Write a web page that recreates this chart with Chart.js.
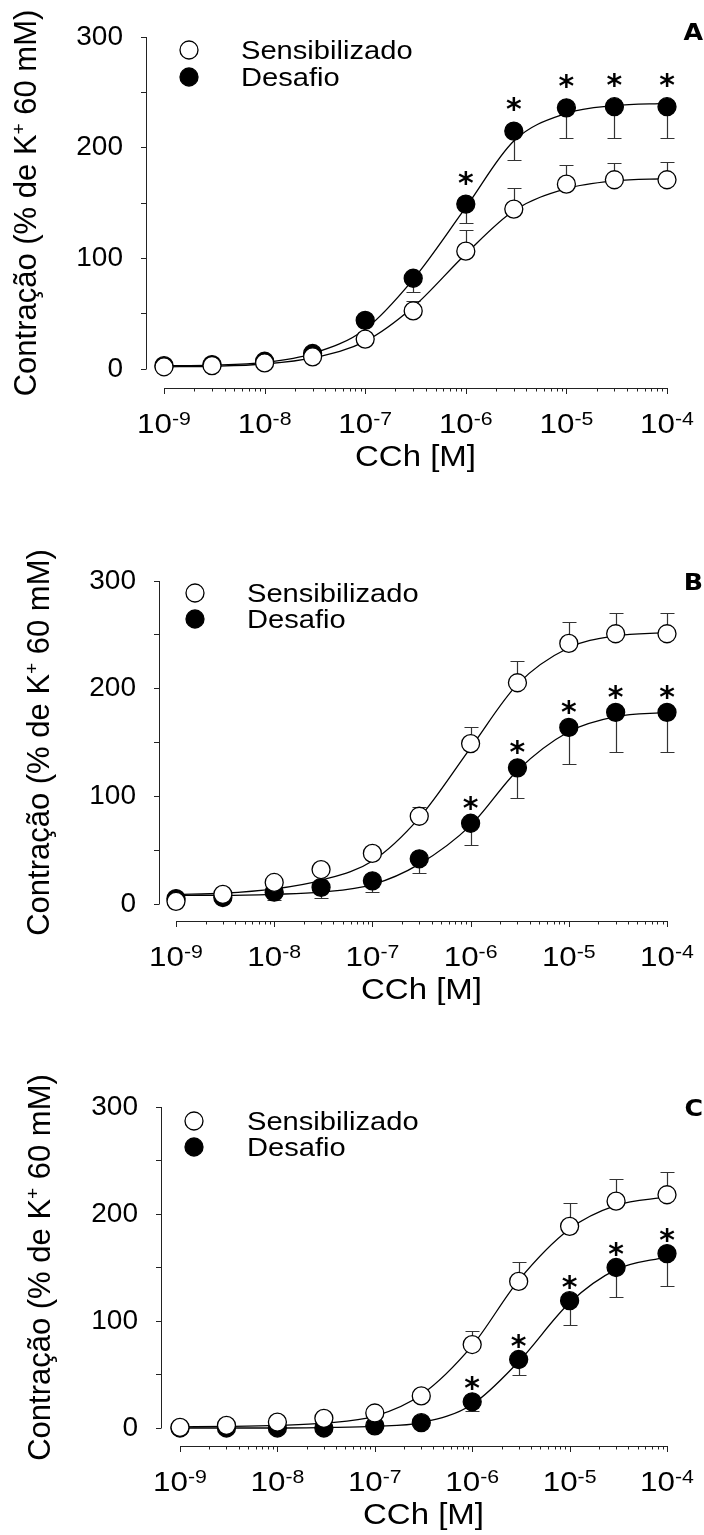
<!DOCTYPE html>
<html>
<head>
<meta charset="utf-8">
<script src="https://cdn.jsdelivr.net/npm/chart.js@4.4.1/dist/chart.umd.min.js"></script>
<style>
  html, body { margin: 0; padding: 0; background: #fff; }
  body { width: 704px; height: 1535px; position: relative; overflow: hidden; }
  canvas { position: absolute; left: 0; }
</style>
</head>
<body>
<canvas id="chartA" width="704" height="500" style="top:0px"></canvas>
<canvas id="chartB" width="704" height="510" style="top:500px"></canvas>
<canvas id="chartC" width="704" height="525" style="top:1010px"></canvas>
<script>
// CCh concentrations (M) and axis ticks
const doses = [1e-9, 3e-9, 1e-8, 3e-8, 1e-7, 3e-7, 1e-6, 3e-6, 1e-5, 3e-5, 1e-4];
const seriesNames = ['Sensibilizado', 'Desafio'];
const xTickExponents = [-9, -8, -7, -6, -5, -4];
const yTickValues = [0, 50, 100, 150, 200, 250, 300];
const yLabelStep = 100;
const starred = [false, false, false, false, false, false, true, true, true, true, true];

// Panel A
const sensA    = [2, 3, 5.5, 11, 27, 52.5, 106.5, 144.5, 167, 171, 171];
const sensSemA = [0, 0, 0, 0, 0, 9, 19, 19, 17, 15, 16];
const sensFitA = [2, 2.5, 4.5, 10, 25, 56, 104, 143, 163, 170, 172];
const desA     = [3, 4, 7, 14, 44, 82, 149, 215, 236, 237, 237];
const desSemA  = [0, 0, 0, 0, 2, 12, 17, 26, 27.5, 28.5, 28.5];
const desFitA  = [3, 3.5, 6, 14, 36, 81, 146, 206, 231, 238, 240];

// Panel B
const sensB    = [2.5, 9, 20, 32, 47, 81.5, 149, 205.5, 242, 251, 251];
const sensSemB = [0, 0, 0, 0, 0, 9, 15, 20, 20, 19, 19];
const sensFitB = [9, 10, 14, 22, 40, 80, 145, 204, 238, 249, 252];
const desB     = [5, 6, 11, 15.5, 21.5, 42, 75, 126.5, 164, 178, 178];
const desSemB  = [0, 3, 7, 10, 10, 13, 20, 28.5, 34, 37, 37];
const desFitB  = [8, 8, 9, 11, 18, 37, 73, 124, 160, 174, 178];

// Panel C
const sensC    = [0.6, 2.5, 5.5, 9, 14, 30, 78, 137, 188.5, 212, 218];
const sensSemC = [0, 0, 0, 0, 0, 0, 13, 18, 21.5, 21, 21];
const sensFitC = [1, 1.5, 2.5, 4.5, 11, 31, 77, 138, 186, 208, 216];
const desC     = [0, 0, 0, 0, 2, 5, 24.5, 64, 119, 150, 163];
const desSemC  = [0, 0, 0, 0, 0, 0, 9, 14, 23, 28, 30];
const desFitC  = [0, 0, 0, 0.5, 1.5, 5, 22, 62, 117, 148, 160];

const FONT = '"Liberation Sans", Arial, sans-serif';
const BOLD = '"DejaVu Sans", Verdana, sans-serif';

// layout of each panel (pixels inside its canvas)
const panels = [
    { canvas: 'chartA', letter: 'A', sens: sensA, sensSem: sensSemA, sensFit: sensFitA, des: desA, desSem: desSemA, desFit: desFitA,
      box: { left: 146, x0: 164, right: 667, top: 37, zero: 369, axis: 388 },
      legend: { x: 189, y: 50, dy: 27, textX: 241 }, letterPos: [703, 40], titleX: 28, starGap: 29 },
    { canvas: 'chartB', letter: 'B', sens: sensB, sensSem: sensSemB, sensFit: sensFitB, des: desB, desSem: desSemB, desFit: desFitB,
      box: { left: 159, x0: 176, right: 667, top: 81, zero: 404, axis: 421 },
      legend: { x: 195, y: 93, dy: 26, textX: 247 }, letterPos: [703, 90], titleX: 41, starGap: 23 },
    { canvas: 'chartC', letter: 'C', sens: sensC, sensSem: sensSemC, sensFit: sensFitC, des: desC, desSem: desSemC, desFit: desFitC,
      box: { left: 161, x0: 180, right: 667, top: 97, zero: 418, axis: 436 },
      legend: { x: 194, y: 111, dy: 26, textX: 247 }, letterPos: [703, 106], titleX: 42, starGap: 21 }
];

function isDecade(v) {
    const l = Math.log10(v);
    return Math.abs(l - Math.round(l)) < 1e-6;
}

function wideText(ctx, text, x, y, sx) {
    ctx.save();
    ctx.translate(x, y);
    ctx.scale(sx, 1);
    ctx.fillText(text, 0, 0);
    ctx.restore();
}

function errorBars(ctx, xs, ys, vals, sems, dir) {
    ctx.beginPath();
    vals.forEach((v, i) => {
        if (!sems[i]) return;
        const px = Math.round(xs.getPixelForValue(doses[i])) + 0.5;
        const p0 = ys.getPixelForValue(v);
        const p1 = Math.round(ys.getPixelForValue(v + dir * sems[i])) + 0.5;
        ctx.moveTo(px, p0);
        ctx.lineTo(px, p1);
        ctx.moveTo(px - 7, p1);
        ctx.lineTo(px + 7, p1);
    });
    ctx.stroke();
}

function makeDecor(p) {
    return {
        id: 'decor',
        beforeDatasetsDraw(chart) {
            const { ctx, chartArea, scales: { x, y } } = chart;
            ctx.save();
            ctx.strokeStyle = '#222';
            ctx.lineWidth = 1;
            // detached axis lines
            ctx.beginPath();
            ctx.moveTo(chartArea.left + 0.5, y.getPixelForValue(yTickValues[yTickValues.length - 1]));
            ctx.lineTo(chartArea.left + 0.5, y.getPixelForValue(0) + 0.5);
            const xa = x.getPixelForValue(doses[0]);
            const xb = x.getPixelForValue(doses[doses.length - 1]);
            ctx.moveTo(xa, chartArea.bottom + 0.5);
            ctx.lineTo(xb + 0.5, chartArea.bottom + 0.5);
            x.ticks.forEach(t => {
                const px = Math.round(x.getPixelForValue(t.value)) + 0.5;
                ctx.moveTo(px, chartArea.bottom);
                ctx.lineTo(px, chartArea.bottom + (isDecade(t.value) ? 6 : 3.5));
            });
            ctx.stroke();
            // error bars (open up, filled down)
            ctx.strokeStyle = '#333';
            ctx.lineWidth = 1.2;
            errorBars(ctx, x, y, p.sens, p.sensSem, 1);
            errorBars(ctx, x, y, p.des, p.desSem, -1);
            ctx.restore();
        },
        afterDraw(chart) {
            const { ctx, chartArea, scales: { x, y } } = chart;
            ctx.save();
            ctx.fillStyle = '#000';
            ctx.textBaseline = 'alphabetic';
            // x tick labels 10^n
            const base = chartArea.bottom + 45;
            xTickExponents.forEach(e => {
                const px = x.getPixelForValue(Math.pow(10, e));
                ctx.font = '28px ' + FONT;
                const w1 = ctx.measureText('10').width * 1.12;
                ctx.font = '19px ' + FONT;
                const w2 = ctx.measureText(String(e)).width * 1.12;
                const start = px - (w1 + w2) / 2;
                ctx.textAlign = 'left';
                ctx.font = '28px ' + FONT;
                wideText(ctx, '10', start, base, 1.12);
                ctx.font = '19px ' + FONT;
                wideText(ctx, String(e), start + w1, base - 8, 1.12);
            });
            // x title
            ctx.font = '30px ' + FONT;
            ctx.textAlign = 'center';
            const xc = (x.getPixelForValue(doses[0]) + x.getPixelForValue(doses[doses.length - 1])) / 2;
            wideText(ctx, 'CCh [M]', xc, chartArea.bottom + 78, 1.1);
            // y title with superscript
            const yc = (y.getPixelForValue(0) + y.getPixelForValue(300)) / 2;
            const parts = [['Contração (% de K', '31px ' + FONT, 0], ['+', '19px ' + FONT, -11], [' 60 mM)', '31px ' + FONT, 0]];
            let total = 0;
            parts.forEach(pt => { ctx.font = pt[1]; pt.push(ctx.measureText(pt[0]).width); total += pt[3]; });
            ctx.save();
            ctx.translate(p.titleX, yc);
            ctx.rotate(-Math.PI / 2);
            ctx.textAlign = 'left';
            let pos = -total / 2;
            parts.forEach(pt => { ctx.font = pt[1]; ctx.fillText(pt[0], pos, 8 + pt[2]); pos += pt[3]; });
            ctx.restore();
            // legend
            const L = p.legend;
            chart.data.datasets.slice(0, 2).forEach((ds, i) => {
                const cy = L.y + i * L.dy;
                ctx.beginPath();
                ctx.arc(L.x, cy, 9, 0, Math.PI * 2);
                ctx.fillStyle = ds.pointBackgroundColor;
                ctx.fill();
                ctx.lineWidth = 1.3;
                ctx.strokeStyle = '#000';
                ctx.stroke();
                ctx.fillStyle = '#000';
                ctx.font = '26px ' + FONT;
                ctx.textAlign = 'left';
                wideText(ctx, ds.label, L.textX, cy + 9, 1.12);
            });
            // significance stars
            ctx.font = 'bold 30px ' + BOLD;
            ctx.textAlign = 'center';
            p.des.forEach((v, i) => {
                if (!starred[i]) return;
                const px = x.getPixelForValue(doses[i]);
                const py = y.getPixelForValue(v) - p.starGap;
                ctx.fillText('*', px, py + 0.58 * 30);
            });
            // panel letter
            ctx.font = 'bold 23px ' + BOLD;
            ctx.textAlign = 'right';
            wideText(ctx, p.letter, p.letterPos[0], p.letterPos[1], 1.1);
            ctx.restore();
        }
    };
}

function makeChart(p) {
    const el = document.getElementById(p.canvas);
    const H = el.height;
    const g = p.box;
    const yMax = yTickValues[yTickValues.length - 1];
    const ppu = (g.zero - g.top) / yMax;
    const yMin = -(g.axis - g.zero) / ppu;
    const decades = xTickExponents.length - 1;
    const decadePx = (g.right - g.x0) / decades;
    const xMin = Math.pow(10, xTickExponents[0] - (g.x0 - g.left) / decadePx);
    const xMax = Math.pow(10, xTickExponents[decades]);
    const pts = vals => doses.map((d, i) => ({ x: d, y: vals[i] }));

    const xTicks = [];
    xTickExponents.forEach((e, k) => {
        const top = k === decades ? 1 : 9;
        for (let m = 1; m <= top; m++) xTicks.push({ value: m * Math.pow(10, e) });
    });

    return new Chart(el, {
        type: 'line',
        data: {
            datasets: [{
                label: seriesNames[0],
                data: pts(p.sens),
                showLine: false,
                pointRadius: 9,
                pointBackgroundColor: '#fff',
                pointBorderColor: '#000',
                pointBorderWidth: 1.3,
                order: 1,
                clip: false
            }, {
                label: seriesNames[1],
                data: pts(p.des),
                showLine: false,
                pointRadius: 9,
                pointBackgroundColor: '#000',
                pointBorderColor: '#000',
                pointBorderWidth: 1.3,
                order: 2,
                clip: false
            }, {
                label: seriesNames[0] + ' (ajuste)',
                data: pts(p.sensFit),
                borderColor: '#000',
                borderWidth: 1.3,
                pointRadius: 0,
                cubicInterpolationMode: 'monotone',
                order: 3,
                clip: false
            }, {
                label: seriesNames[1] + ' (ajuste)',
                data: pts(p.desFit),
                borderColor: '#000',
                borderWidth: 1.3,
                pointRadius: 0,
                cubicInterpolationMode: 'monotone',
                order: 4,
                clip: false
            }]
        },
        options: {
            responsive: false,
            animation: false,
            devicePixelRatio: 1,
            layout: { padding: { left: 0, top: g.top, right: el.width - g.right, bottom: 0 } },
            plugins: { legend: { display: false }, tooltip: { enabled: false } },
            scales: {
                x: {
                    type: 'logarithmic',
                    min: xMin,
                    max: xMax,
                    border: { display: false },
                    grid: { display: false },
                    ticks: { display: false },
                    afterBuildTicks: scale => { scale.ticks = xTicks.slice(); },
                    afterFit: scale => { scale.height = H - g.axis; }
                },
                y: {
                    min: yMin,
                    max: yMax,
                    border: { display: false },
                    grid: { drawOnChartArea: false, tickLength: 5, color: '#222', lineWidth: 1 },
                    ticks: {
                        autoSkip: false,
                        padding: 18,
                        color: '#000',
                        font: { family: FONT, size: 28 },
                        callback: v => (v % yLabelStep === 0 ? String(v) : '')
                    },
                    afterBuildTicks: scale => { scale.ticks = yTickValues.map(v => ({ value: v })); },
                    afterFit: scale => { scale.width = g.left; }
                }
            }
        },
        plugins: [makeDecor(p)]
    });
}

panels.forEach(makeChart);
</script>
</body>
</html>
